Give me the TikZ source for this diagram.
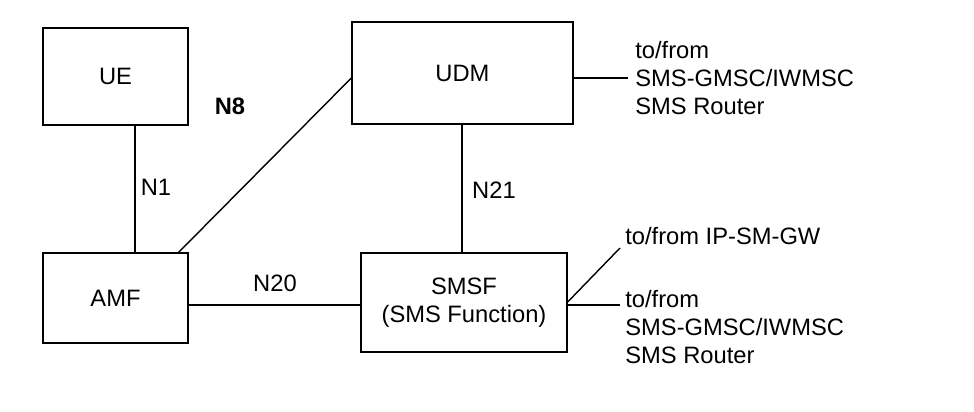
\documentclass[tikz,border=0pt]{standalone}
\usepackage{fontspec}
\setmainfont{Liberation Sans}
\usetikzlibrary{positioning}
\begin{document}
\begin{tikzpicture}[
  x=0.02cm, y=-0.02cm,
  box/.style={
    rectangle,
    draw=black,
    line width=0.8pt,
    inner sep=0pt,
    align=center,
    font=\fontsize{13.5}{16}\selectfont
  },
  txt/.style={
    font=\fontsize{13.5}{16}\selectfont,
    align=left,
    inner sep=0pt
  },
  link/.style={
    line width=0.8pt,
    draw=black
  }
]
\useasboundingbox (0,0) rectangle (974,412);
% Network functions
\node[box, minimum width=2.9cm, minimum height=1.94cm] (ue) at (115.5,76.5) {UE};
\node[box, minimum width=4.42cm, minimum height=2.04cm] (udm) at (462.5,73) {UDM};
\node[box, minimum width=2.9cm, minimum height=1.8cm] (amf) at (115.5,298) {AMF};
\node[box, minimum width=4.12cm, minimum height=1.98cm] (smsf) at (464,302.5) {SMSF\\(SMS Function)};

% Free ends
\coordinate (udmout) at (628,78);
\coordinate (ipgw) at (620,248);
\coordinate (smsout) at (620,305);

% Connections
\draw[link] (ue.south -| 135,0) -- (amf.north -| 135,0);
\draw[link] (udm.west |- 0,78) -- (178,253);
\draw[link] (udm.south -| 462,0) -- (smsf.north -| 462,0);
\draw[link] (amf.east |- 0,305) -- (smsf.west |- 0,305);
\draw[link] (udm.east |- 0,78) -- (udmout);
\draw[link] (smsf.east |- 0,302) -- (ipgw);
\draw[link] (smsf.east |- 0,305) -- (smsout);

% Reference points
\node[txt] (n1) at (156,187) {N1};
\node[txt, font=\fontsize{13.5}{16}\selectfont\bfseries] (n8) at (230,106) {N8};
\node[txt] (n21) at (494,190) {N21};
\node[txt] (n20) at (275,283) {N20};

% External entities
\node[txt, anchor=west] (ext1) at (635,78) {to/from\\SMS-GMSC/IWMSC\\SMS Router};
\node[txt, anchor=west] (ext2) at (625,236) {to/from IP-SM-GW};
\node[txt, anchor=west] (ext3) at (625,327) {to/from\\SMS-GMSC/IWMSC\\SMS Router};
\end{tikzpicture}
\end{document}
